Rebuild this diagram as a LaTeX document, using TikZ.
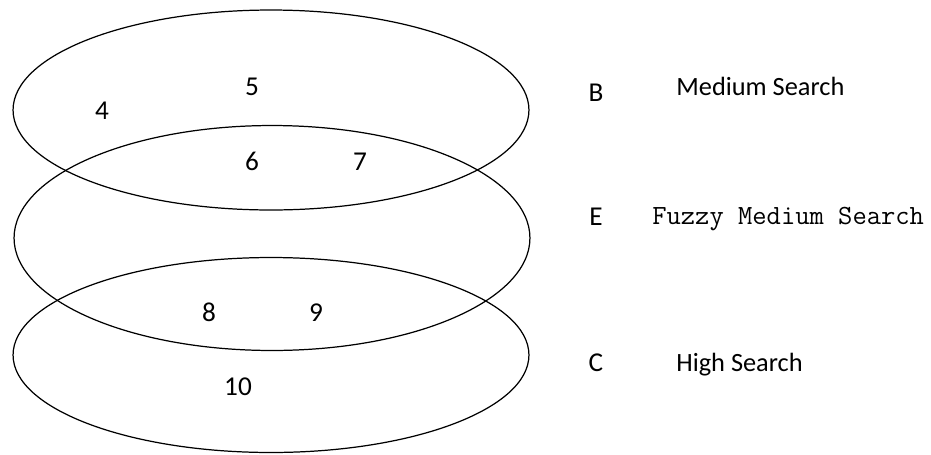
\documentclass[tikz,border=0pt]{standalone}
\usepackage{fontspec}
\setmainfont{Carlito}
\usetikzlibrary{shapes.geometric, positioning}
\tikzset{
  setring/.style={ellipse, draw=black, line width=0.7pt, inner sep=0pt,
                  minimum width=10.32cm, minimum height=#1},
  region/.style={anchor=base, inner sep=0pt, font=\fontsize{15.5}{18}\selectfont},
  setname/.style={anchor=base, inner sep=0pt, font=\fontsize{15.5}{18}\selectfont},
  setdesc/.style={anchor=base west, inner sep=0pt, font=\fontsize{15}{18}\selectfont},
}

\begin{document}
\begin{tikzpicture}[x=0.02cm, y=-0.02cm]
  \useasboundingbox (0,0) rectangle (931,454);
  % the three sets
  \node[setring=4cm] (setB) at (271,110) {};
  \node[setring=4.5cm] (setE) at (272,238) {};
  \node[setring=3.9cm] (setC) at (271,355) {};
  % regions
  \node[region] (r4) at (102,119) {4};
  \node[region] (r5) at (252,95) {5};
  \node[region] (r6) at (252,170) {6};
  \node[region] (r7) at (360,170) {7};
  \node[region] (r8) at (209,321) {8};
  \node[region] (r9) at (316,321) {9};
  \node[region] (r10) at (238,395) {10};
  % legend
  \node[setname] (nB) at (596,101) {B};
  \node[setname] (nE) at (596,225) {E};
  \node[setname] (nC) at (596,371) {C};
  \node[setdesc] (dB) at (676,95) {Medium Search};
  \node[setdesc, font=\ttfamily\fontsize{15.8}{18}\selectfont] (dE) at (652,224) {Fuzzy Medium Search};
  \node[setdesc] (dC) at (676,371) {High Search};
\end{tikzpicture}
\end{document}
